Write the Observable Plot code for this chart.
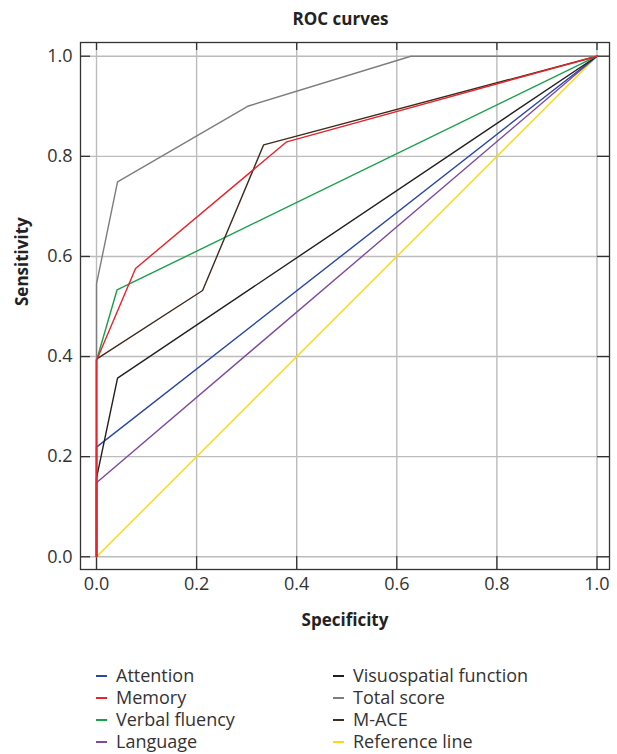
<!DOCTYPE html>
<html>
<head>
<meta charset="utf-8">
<script src="https://cdn.jsdelivr.net/npm/d3@7"></script>
<script src="https://cdn.jsdelivr.net/npm/@observablehq/plot@0.6"></script>
<style>
  body { margin: 0; background: #fff; font-family: "Open Sans", sans-serif; color: #222; }
  #wrap { width: 617px; height: 754px; overflow: hidden; position: relative; }
  #title { height: 34px; line-height: 38px; font-weight: bold; font-size: 17px; text-align: center; padding-left: 64px; box-sizing: border-box; width: 617px; color: #222; }
  #legend { display: grid; grid-template-columns: 237px 260px; padding-left: 96px; padding-top: 30px; font-size: 18px; line-height: 22px; color: #333; }
  .item { white-space: nowrap; }
  .sw { display: inline-block; width: 11px; height: 1.6px; vertical-align: middle; margin-right: 9px; position: relative; top: -1px; }
</style>
</head>
<body>
<div id="wrap">
  <div id="title">ROC curves</div>
  <div id="chart"></div>
  <div id="legend"></div>
</div>
<script>
// Series (1 - specificity on x as drawn, sensitivity on y)
const seriesNames = ["Attention", "Memory", "Verbal fluency", "Language", "Visuospatial function", "Total score", "M-ACE", "Reference line"];
const seriesColors = ["#2a47a3", "#e8232b", "#19a04a", "#7e4aa2", "#231f20", "#7d7d7d", "#3e2a1e", "#fdd80e"];

const attentionX = [0, 0, 1];
const attentionY = [0, 0.219, 1];
const memoryX = [0, 0, 0.078, 0.38, 1];
const memoryY = [0, 0.392, 0.576, 0.829, 1];
const verbalX = [0, 0, 0.041, 1];
const verbalY = [0, 0.392, 0.533, 1];
const languageX = [0, 0, 1];
const languageY = [0, 0.148, 1];
const visuoX = [0, 0, 0.042, 1];
const visuoY = [0, 0.157, 0.357, 1];
const totalX = [0, 0, 0.042, 0.302, 0.628, 1];
const totalY = [0, 0.545, 0.749, 0.9, 1, 1];
const maceX = [0, 0, 0.212, 0.334, 1];
const maceY = [0, 0.395, 0.532, 0.823, 1];
const refX = [0, 1];
const refY = [0, 1];

const xTicks = [0, 0.2, 0.4, 0.6, 0.8, 1.0];
const yTicks = [0, 0.2, 0.4, 0.6, 0.8, 1.0];

const seriesData = {
  "Attention": [attentionX, attentionY],
  "Memory": [memoryX, memoryY],
  "Verbal fluency": [verbalX, verbalY],
  "Language": [languageX, languageY],
  "Visuospatial function": [visuoX, visuoY],
  "Total score": [totalX, totalY],
  "M-ACE": [maceX, maceY],
  "Reference line": [refX, refY]
};
// drawing order (bottom to top)
const drawOrder = ["Reference line", "Language", "Attention", "Visuospatial function", "Verbal fluency", "M-ACE", "Total score", "Memory"];
const rows = [];
for (const name of drawOrder) {
  const [xs, ys] = seriesData[name];
  xs.forEach((x, i) => rows.push({series: name, x, y: ys[i]}));
}

const xDom = [-0.032, 1.025];
const yDom = [-0.0254, 1.0274];
const fmt = d3.format(".1f");

const chart = Plot.plot({
  width: 617,
  height: 600,
  marginLeft: 80,
  marginRight: 8,
  marginTop: 8,
  marginBottom: 65,
  style: {fontFamily: "Open Sans, sans-serif", fontSize: "18px", color: "#333", background: "#fff"},
  x: {domain: xDom, ticks: xTicks, tickFormat: fmt},
  y: {domain: yDom, ticks: yTicks, tickFormat: fmt},
  color: {domain: seriesNames, range: seriesColors},
  marks: [
    Plot.gridX(xTicks, {stroke: "#bcbcbc", strokeOpacity: 1, strokeWidth: 1.4}),
    Plot.gridY(yTicks, {stroke: "#bcbcbc", strokeOpacity: 1, strokeWidth: 1.4}),
    Plot.axisX(xTicks, {tickSize: 0, tickPadding: 8, tickFormat: fmt, label: null, fontSize: 18, fill: "#333"}),
    Plot.axisY(yTicks, {tickSize: 0, tickPadding: 8, tickFormat: fmt, label: null, fontSize: 18, fill: "#333"}),
    // inward tick marks on all four sides
    Plot.ruleX(xTicks, {x: d => d, y1: yDom[0], y2: yDom[0] + 0.026, stroke: "#333", strokeWidth: 1.3}),
    Plot.ruleX(xTicks, {x: d => d, y1: yDom[1], y2: yDom[1] - 0.016, stroke: "#333", strokeWidth: 1.3}),
    Plot.ruleY(yTicks, {y: d => d, x1: xDom[0], x2: xDom[0] + 0.02, stroke: "#333", strokeWidth: 1.3}),
    Plot.ruleY(yTicks, {y: d => d, x1: xDom[1], x2: xDom[1] - 0.024, stroke: "#333", strokeWidth: 1.3}),
    Plot.line(rows, {x: "x", y: "y", z: "series", stroke: "series", strokeWidth: 1.4, curve: "linear"}),
    Plot.frame({stroke: "#333", strokeWidth: 1.3}),
    Plot.text(["Specificity"], {frameAnchor: "bottom", dy: 56, fontWeight: "bold", fontSize: 17, fill: "#222"}),
    Plot.text(["Sensitivity"], {frameAnchor: "left", dx: -58, rotate: -90, fontWeight: "bold", fontSize: 17, fill: "#222"})
  ]
});
document.getElementById("chart").appendChild(chart);

// legend: column 1 = first four, column 2 = last four
const legend = document.getElementById("legend");
const order = [0, 4, 1, 5, 2, 6, 3, 7];
for (const i of order) {
  const div = document.createElement("div");
  div.className = "item";
  const sw = document.createElement("span");
  sw.className = "sw";
  sw.style.background = seriesColors[i];
  div.appendChild(sw);
  div.appendChild(document.createTextNode(seriesNames[i]));
  legend.appendChild(div);
}
</script>
</body>
</html>
